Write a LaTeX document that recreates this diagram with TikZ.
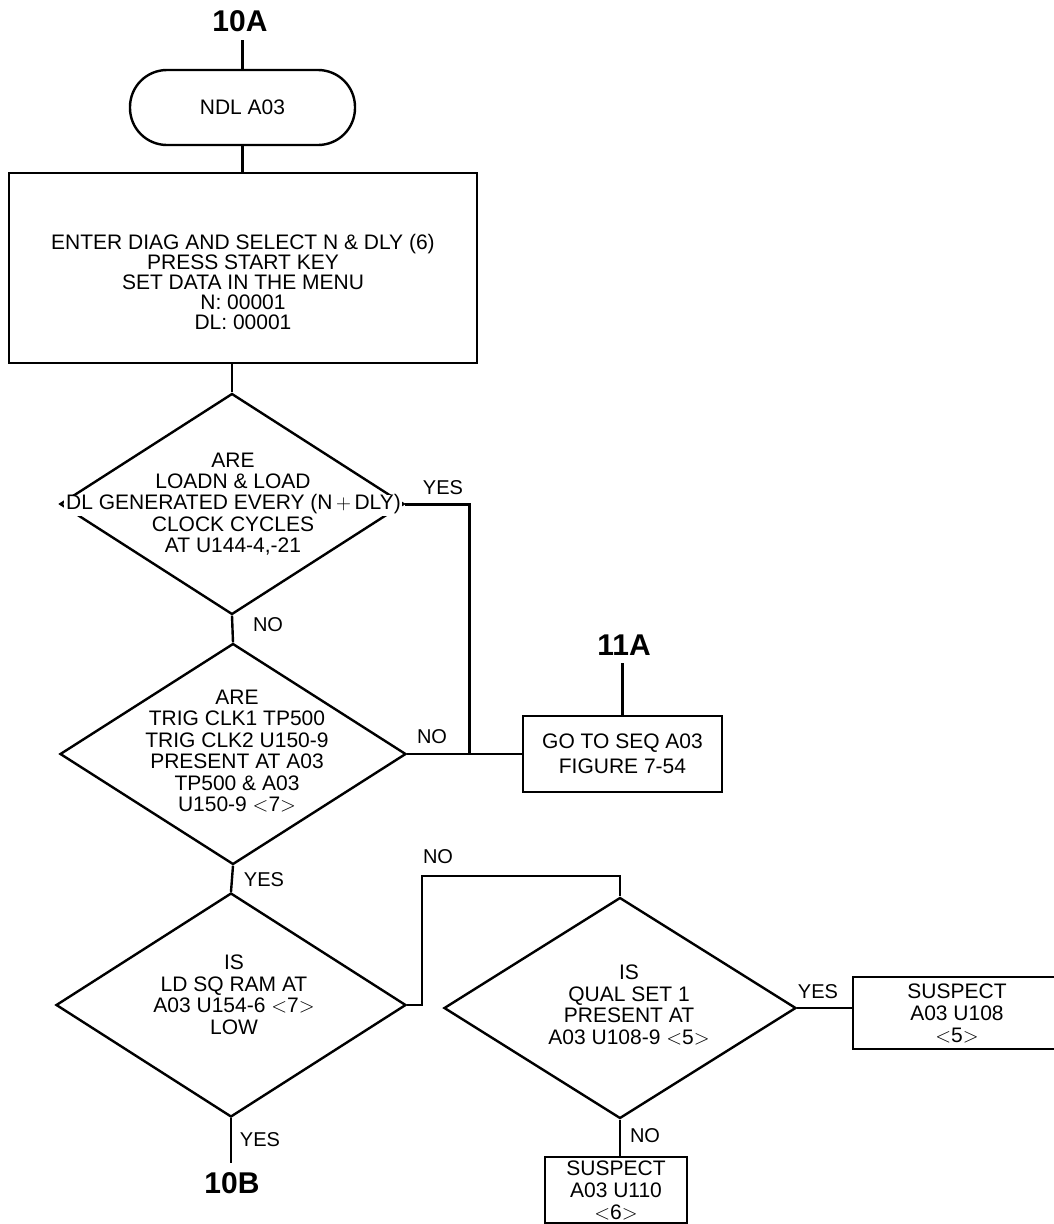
\documentclass[tikz,border=0pt]{standalone}
\usepackage{fontspec}
\setmainfont{Liberation Sans}
\usetikzlibrary{shapes.geometric}
\newcommand{\wbg}[1]{{\setlength{\fboxsep}{0pt}\colorbox{white}{\strut\hspace{2pt}#1\hspace{1pt}}}}
\begin{document}
\begin{tikzpicture}[x=1pt,y=-1pt,
  ln/.style={line width=2.4pt},
  dia/.style={draw, diamond, line width=2.4pt, inner sep=0pt},
  txt/.style={align=center, inner sep=0pt, font=\fontsize{21}{#1}\selectfont},
  txt/.default=21,
  boxx/.style={draw, rectangle, line width=2.4pt, inner sep=1pt, align=center},
  lbl/.style={inner sep=0pt, font=\fontsize{20}{20}\selectfont},
  big/.style={inner sep=0pt, font=\bfseries\fontsize{30}{30}\selectfont}]
\clip (0,0) rectangle (1054,1224);
\fill[white] (0,0) rectangle (1054,1224);

% nodes
\node[big] (l10a) at (240,21) {10A};
\node[txt, draw, line width=2.4pt, rounded corners=37pt, minimum width=225pt, minimum height=75pt] (term) at (242.5,107.5) {NDL A03};

\node[boxx, minimum width=468pt, minimum height=190pt] (box1) at (243,268) {};
\node[txt=20] (box1t) at (243,282) {ENTER DIAG AND SELECT N \& DLY (6)\\PRESS START KEY\\SET DATA IN THE MENU\\N: 00001\\DL: 00001};

\node[dia, minimum width=344pt, minimum height=221pt] (d1) at (232,504) {};
\node[txt=21.3] (d1t) at (233,504) {ARE\\LOADN \& LOAD\\\wbg{DL GENERATED EVERY (N\,$+$\,DLY)}\\CLOCK CYCLES\\AT U144-4,-21};

\node[dia, minimum width=346pt, minimum height=221pt] (d2) at (233,754) {};
\node[txt=21.5] (d2t) at (237,751) {ARE\\TRIG CLK1 TP500\\TRIG CLK2 U150-9\\PRESENT AT A03\\TP500 \& A03\\U150-9 $<$7$>$};

\node[dia, minimum width=350pt, minimum height=224pt] (d3) at (231,1005) {};
\node[txt=21.5] (d3t) at (234,995) {IS\\LD SQ RAM AT\\A03 U154-6 $<$7$>$\\LOW};

\node[dia, minimum width=352pt, minimum height=221pt] (d4) at (620,1008) {};
\node[txt=21.5] (d4t) at (629,1005) {IS\\QUAL SET 1\\PRESENT AT\\A03 U108-9 $<$5$>$};

\node[txt=24.5, boxx, minimum width=199pt, minimum height=76pt] (goto) at (622.5,754) {GO TO SEQ A03\\FIGURE 7-54};
\node[txt=22, boxx, minimum width=208pt, minimum height=72pt] (u108) at (957,1013) {SUSPECT\\A03 U108\\$<$5$>$};
\node[txt=22, boxx, minimum width=142pt, minimum height=66pt] (u110) at (616,1190) {SUSPECT\\A03 U110\\$<$6$>$};

% labels
\node[lbl] (yes1) at (443,488) {YES};
\node[lbl] (no1) at (268,625) {NO};
\node[lbl] (no2) at (432,737) {NO};
\node[big] (l11a) at (624,645) {11A};
\node[lbl] (yes2) at (264,880) {YES};
\node[lbl] (no3) at (438,857) {NO};
\node[lbl] (yes3) at (818,992) {YES};
\node[lbl] (yes4) at (260,1140) {YES};
\node[lbl] (no4) at (645,1136) {NO};
\node[big] (l10b) at (232,1183) {10B};

% connectors
\coordinate (j1) at (469,754);
\coordinate (k1) at (422,876);
\draw[ln, shorten >=8pt] (term.north) -- (term.north |- l10a.south);
\draw[ln] (term.south) -- (term.south |- box1.north);
\draw[ln] (box1.south -| d1.north) -- (d1.north);
\draw[ln] (d1.south) -- (d2.north);
\draw[ln, line width=3pt] (d1.east) -| (j1);
\draw[ln] (d2.east) -- (goto.west);
\draw[ln, shorten >=7pt] (goto.north) -- (goto.north |- l11a.south);
\draw[ln] (d2.south) -- (d3.north);
\draw[ln] (d3.east) -| (k1) -| (d4.north);
\draw[ln] (d4.east) -- (d4.east -| u108.west);
\draw[ln] (d4.south) -- (d4.south |- u110.north);
\draw[ln, shorten >=9pt] (d3.south) -- (d3.south |- l10b.north);
\end{tikzpicture}
\end{document}
